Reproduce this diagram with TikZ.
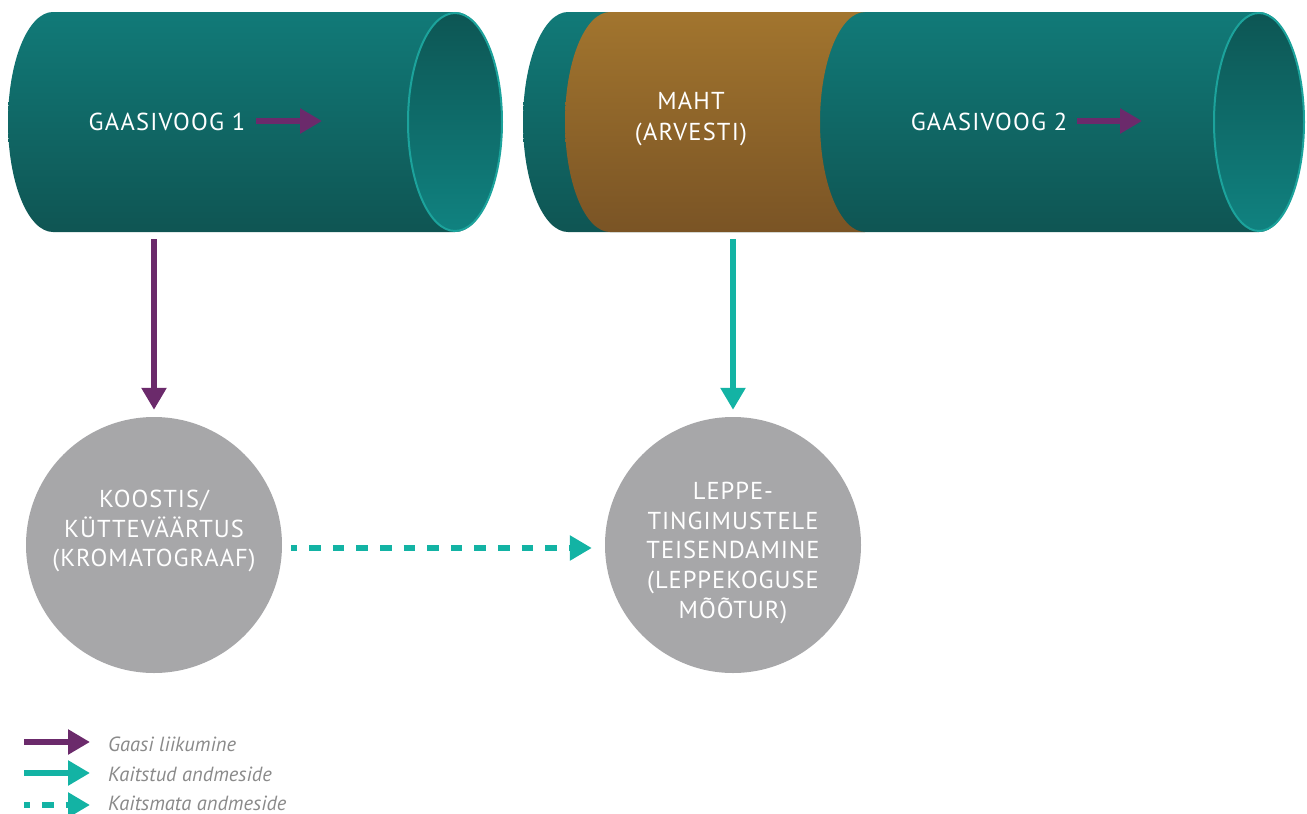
\documentclass[tikz,border=0pt]{standalone}
\usepackage{fontspec}
\setmainfont{PT Sans}
\newfontfamily\labfont[LetterSpace=5]{PT Sans}
\newfontfamily\circfont[LetterSpace=4]{PT Sans}
\newfontfamily\legfont{PT Sans}
\usetikzlibrary{arrows.meta}
\definecolor{tealTop}{HTML}{117A78}
\definecolor{tealMid}{HTML}{108381}
\definecolor{tealBot}{HTML}{0F5553}
\definecolor{innerTop}{HTML}{0D5654}
\definecolor{innerBot}{HTML}{108280}
\definecolor{rimCol}{HTML}{1CA39C}
\definecolor{ochreTop}{HTML}{A2752E}
\definecolor{ochreMid}{HTML}{B8832F}
\definecolor{ochreBot}{HTML}{7A5425}
\definecolor{gasPurple}{HTML}{6B2A6B}
\definecolor{dataTeal}{HTML}{13B3A4}
\definecolor{circGray}{HTML}{A7A7A9}
\definecolor{legGray}{HTML}{8A8A8A}
\tikzset{
  pipebody/.style={top color=tealTop, middle color=tealMid, bottom color=tealBot, draw=none},
  pipeinner/.style={top color=innerTop, bottom color=innerBot, draw=rimCol, line width=2pt},
  ochreband/.style={top color=ochreTop, middle color=ochreMid, bottom color=ochreBot, draw=none},
  pipetext/.style={text=white, font=\labfont\fontsize{24.5}{31}\selectfont, align=center, inner sep=0pt},
  circnode/.style={circle, fill=circGray, minimum size=256pt, inner sep=0pt},
  circtext/.style={text=white, font=\circfont\fontsize{24.5}{29.8}\selectfont, align=center, inner sep=0pt},
  gasarrow/.style={draw=gasPurple, line width=6.5pt, -{Triangle[length=22pt,width=24pt]}},
  dataarrow/.style={draw=dataTeal, line width=6.5pt, -{Triangle[length=22pt,width=24pt]}},
  dasharrow/.style={draw=dataTeal, line width=6pt, dash pattern=on 11.6pt off 12pt, dash phase=5.6pt,
     -{Triangle[length=22pt,width=24pt]}},
  legtext/.style={text=legGray, font=\legfont\itshape\fontsize{20.5}{22}\selectfont, anchor=west, inner sep=0pt}
}
\begin{document}
\begin{tikzpicture}[x=1pt,y=-1pt]
\useasboundingbox (0,0) rectangle (1307,814);
% pipe 1
\path[pipebody] (53,12) -- (455,12) arc[start angle=270,end angle=450,x radius=47,y radius=110]
  -- (53,232) arc[start angle=90,end angle=270,x radius=45,y radius=110] -- cycle;
\path[pipeinner] (455,122) ellipse[x radius=47,y radius=109];
% pipe 2
\path[pipebody] (568,12) -- (1259,12) arc[start angle=270,end angle=450,x radius=45,y radius=110]
  -- (568,232) arc[start angle=90,end angle=270,x radius=45,y radius=110] -- cycle;
\path[ochreband] (610,12) -- (865,12) arc[start angle=270,end angle=90,x radius=45,y radius=110]
  -- (610,232) arc[start angle=90,end angle=270,x radius=45,y radius=110] -- cycle;
\path[pipeinner] (1259,122) ellipse[x radius=45,y radius=109];
% texts in pipes
\node[pipetext] (g1) at (167,122) {GAASIVOOG 1};
\node[pipetext] (maht) at (691,119) {MAHT\\(ARVESTI)};
\node[pipetext] (g2) at (989,122) {GAASIVOOG 2};
\coordinate (g1a) at (256,121);
\coordinate (g1b) at (322,121);
\coordinate (g2a) at (1077,121);
\coordinate (g2b) at (1142,121);
\draw[gasarrow] (g1a) -- (g1b);
\draw[gasarrow] (g2a) -- (g2b);
% circles
\node[circnode] (c1) at (154,545) {};
\node[circnode] (c2) at (733,545) {};
\node[circtext] (c1t) at (154,531) {KOOSTIS/\\KÜTTEVÄÄRTUS\\(KROMATOGRAAF)};
\node[circtext] (c2t) at (733,553) {LEPPE-\\TINGIMUSTELE\\TEISENDAMINE\\(LEPPEKOGUSE\\MÕÕTUR)};
\coordinate (p1) at (154,239);
\coordinate (p2) at (733,239);
\draw[gasarrow] (p1) -- (c1.north) [shorten >=7pt];
\draw[dataarrow] (p2) -- (c2.north) [shorten >=7pt];
\draw[dasharrow, shorten <=9pt, shorten >=13pt] ([yshift=-3pt]c1.east) -- ([yshift=-3pt]c2.west);
% legend
\coordinate (l1a) at (24,742); \coordinate (l1b) at (90,742);
\coordinate (l2a) at (24,773); \coordinate (l2b) at (90,773);
\coordinate (l3a) at (24,805); \coordinate (l3b) at (90,805);
\draw[gasarrow] (l1a) -- (l1b);
\draw[dataarrow] (l2a) -- (l2b);
\draw[dasharrow] (l3a) -- (l3b);
\node[legtext] (t1) at (108,744) {Gaasi liikumine};
\node[legtext] (t2) at (108,774) {Kaitstud andmeside};
\node[legtext] (t3) at (108,803) {Kaitsmata andmeside};
\end{tikzpicture}
\end{document}
